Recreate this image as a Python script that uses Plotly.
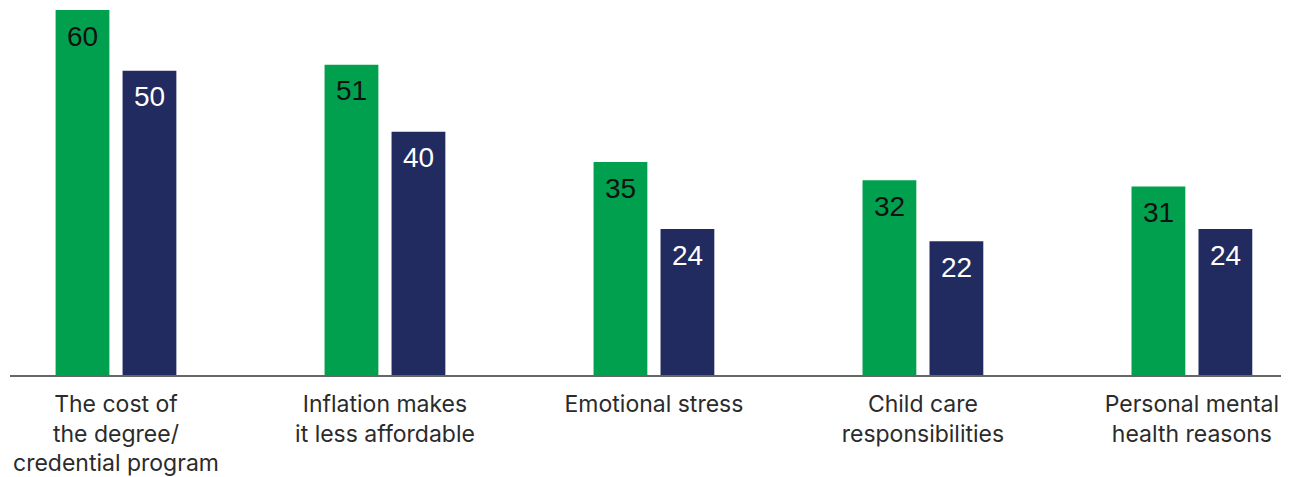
import plotly.graph_objects as go

categories = [
    "The cost of<br>the degree/<br>credential program",
    "Inflation makes<br>it less affordable",
    "Emotional stress",
    "Child care<br>responsibilities",
    "Personal mental<br>health reasons",
]
series_a = [60, 51, 35, 32, 31]
series_b = [50, 40, 24, 22, 24]

GREEN = "#00A04E"
NAVY = "#212B60"

fig = go.Figure()
fig.add_trace(go.Bar(x=categories, y=series_a, marker_color=GREEN, width=0.2, offset=-0.2245,
                     marker_line_width=0, showlegend=False))
fig.add_trace(go.Bar(x=categories, y=series_b, marker_color=NAVY, width=0.2, offset=0.0245,
                     marker_line_width=0, showlegend=False))

# value labels inside the top of each bar
px_per_unit = 269
for cat, v in zip(categories, series_a):
    fig.add_annotation(x=cat, y=v, text=str(v), showarrow=False, yanchor="middle",
                       xshift=-0.1245 * px_per_unit, yshift=-26,
                       font=dict(family="Arial, Liberation Sans", size=28, color="#111111"))
for cat, v in zip(categories, series_b):
    fig.add_annotation(x=cat, y=v, text=str(v), showarrow=False, yanchor="middle",
                       xshift=0.1245 * px_per_unit, yshift=-26,
                       font=dict(family="Arial, Liberation Sans", size=28, color="#ffffff"))

fig.update_layout(
    width=1281, height=469,
    margin=dict(l=2, r=0, t=2, b=97),
    plot_bgcolor="white", paper_bgcolor="white",
    barmode="overlay",
    font=dict(family="Inter", size=23, color="#2b2b2b"),
    xaxis=dict(range=[-0.394, 4.361], showline=True, linecolor="#666666", linewidth=2,
               showgrid=False, ticks="", ticklabelstandoff=7,
               tickfont=dict(family="Inter", size=23, color="#2b2b2b")),
    yaxis=dict(range=[0, 60], visible=False, showgrid=False, zeroline=False),
)

fig.write_html("out.html")
